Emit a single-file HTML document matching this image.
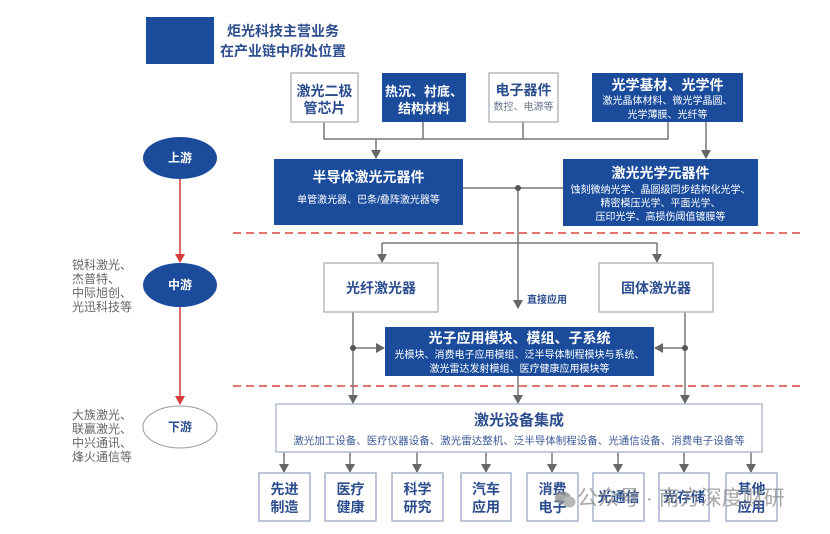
<!DOCTYPE html>
<html><head><meta charset="utf-8"><style>
html,body{margin:0;padding:0;background:#fff;}
svg{display:block;}
text{font-family:"Liberation Sans","Noto Sans CJK SC",sans-serif;}
</style></head><body>
<svg width="830" height="534" viewBox="0 0 830 534" xmlns="http://www.w3.org/2000/svg">
<defs>
<marker id="ga" markerWidth="10" markerHeight="10" refX="8" refY="5" orient="auto" markerUnits="userSpaceOnUse"><path d="M0,0 L9,5 L0,10 z" fill="#666"/></marker>
<marker id="ra" markerWidth="10" markerHeight="10" refX="8" refY="5" orient="auto" markerUnits="userSpaceOnUse"><path d="M0,0 L9,5 L0,10 z" fill="#d63a3a"/></marker>
</defs>
<rect width="830" height="534" fill="#fff"/>

<!-- legend -->
<rect x="146" y="17" width="68" height="47" fill="#1b4c9c"/>
<g font-weight="bold" font-size="14" fill="#2c4d8e" text-anchor="middle">
<text x="283" y="36">炬光科技主营业务</text>
<text x="283" y="56">在产业链中所处位置</text>
</g>

<!-- left stages -->
<line x1="180" y1="179" x2="180" y2="262" stroke="#d63a3a" stroke-width="1.5" marker-end="url(#ra)"/>
<line x1="180" y1="307" x2="180" y2="404" stroke="#d63a3a" stroke-width="1.5" marker-end="url(#ra)"/>
<ellipse cx="180" cy="158" rx="37" ry="21" fill="#1b4c9c"/>
<ellipse cx="180" cy="285" rx="37" ry="22" fill="#1b4c9c"/>
<ellipse cx="180" cy="427" rx="37" ry="21" fill="#fff" stroke="#9a9a9a" stroke-width="1"/>
<g font-weight="bold" font-size="12" text-anchor="middle">
<text x="180" y="162" fill="#fff">上游</text>
<text x="180" y="289" fill="#fff">中游</text>
<text x="180" y="431" fill="#2c4d8e">下游</text>
</g>
<g font-size="12" fill="#666">
<text x="72" y="269">锐科激光、</text>
<text x="72" y="283">杰普特、</text>
<text x="72" y="297">中际旭创、</text>
<text x="72" y="311">光迅科技等</text>
<text x="72" y="419">大族激光、</text>
<text x="72" y="433">联赢激光、</text>
<text x="72" y="447">中兴通讯、</text>
<text x="72" y="461">烽火通信等</text>
</g>

<!-- red dashed separators -->
<line x1="233" y1="233" x2="800" y2="233" stroke="#d9453f" stroke-width="1.5" stroke-dasharray="8,5"/>
<line x1="233" y1="386" x2="800" y2="386" stroke="#d9453f" stroke-width="1.5" stroke-dasharray="8,5"/>

<!-- connectors -->
<g stroke="#777" stroke-width="1.5" fill="none">
<polyline points="324,122 324,139 668,139 668,122"/>
<line x1="423" y1="122" x2="423" y2="139"/>
<line x1="523" y1="122" x2="523" y2="139"/>
<line x1="376" y1="139" x2="376" y2="158" marker-end="url(#ga)"/>
<line x1="706" y1="122" x2="706" y2="158" marker-end="url(#ga)"/>
<line x1="463" y1="188" x2="563" y2="188"/>
<line x1="518" y1="188" x2="518" y2="308" marker-end="url(#ga)"/>
<line x1="382" y1="243" x2="657" y2="243"/>
<line x1="382" y1="243" x2="382" y2="262" marker-end="url(#ga)"/>
<line x1="657" y1="243" x2="657" y2="262" marker-end="url(#ga)"/>
<line x1="353" y1="312" x2="353" y2="403" marker-end="url(#ga)"/>
<line x1="685" y1="312" x2="685" y2="403" marker-end="url(#ga)"/>
<line x1="353" y1="348" x2="384" y2="348" marker-end="url(#ga)"/>
<line x1="685" y1="348" x2="655" y2="348" marker-end="url(#ga)"/>
<line x1="518" y1="376" x2="518" y2="403" marker-end="url(#ga)"/>
<line x1="284" y1="452" x2="284" y2="472" marker-end="url(#ga)"/>
<line x1="350" y1="452" x2="350" y2="472" marker-end="url(#ga)"/>
<line x1="417" y1="452" x2="417" y2="472" marker-end="url(#ga)"/>
<line x1="486" y1="452" x2="486" y2="472" marker-end="url(#ga)"/>
<line x1="552" y1="452" x2="552" y2="472" marker-end="url(#ga)"/>
<line x1="618" y1="452" x2="618" y2="472" marker-end="url(#ga)"/>
<line x1="684" y1="452" x2="684" y2="472" marker-end="url(#ga)"/>
<line x1="751" y1="452" x2="751" y2="472" marker-end="url(#ga)"/>
</g>
<circle cx="518" cy="188" r="3" fill="#555"/>
<circle cx="353" cy="348" r="3" fill="#555"/>
<circle cx="685" cy="348" r="3" fill="#555"/>

<!-- row 1 -->
<rect x="291" y="73" width="67" height="49" fill="#fff" stroke="#b5b8bf" stroke-width="1.5"/>
<rect x="382" y="73" width="84" height="49" fill="#1b4c9c"/>
<rect x="489" y="73" width="69" height="49" fill="#fff" stroke="#b5b8bf" stroke-width="1.5"/>
<rect x="592" y="73" width="151" height="49" fill="#1b4c9c"/>
<g font-weight="bold" text-anchor="middle">
<text x="324.5" y="96" font-size="14" fill="#2c4d8e">激光二极</text>
<text x="324.5" y="113" font-size="14" fill="#2c4d8e">管芯片</text>
<text x="424" y="96" font-size="13" fill="#fff">热沉、衬底、</text>
<text x="424" y="113" font-size="13" fill="#fff">结构材料</text>
<text x="523.5" y="95" font-size="14" fill="#2c4d8e">电子器件</text>
<text x="667.5" y="90" font-size="14" fill="#fff">光学基材、光学件</text>
</g>
<text x="523.5" y="110" font-size="10" fill="#6a7590" text-anchor="middle">数控、电源等</text>
<g font-size="10" fill="#fff" text-anchor="middle">
<text x="667.5" y="104">激光晶体材料、微光学晶圆、</text>
<text x="667.5" y="118">光学薄膜、光纤等</text>
</g>

<!-- row 2 -->
<rect x="274" y="159" width="189" height="66" fill="#1b4c9c"/>
<rect x="563" y="159" width="195" height="67" fill="#1b4c9c"/>
<g font-weight="bold" font-size="14" fill="#fff" text-anchor="middle">
<text x="368.5" y="182">半导体激光元器件</text>
<text x="660.5" y="178">激光光学元器件</text>
</g>
<g font-size="10" fill="#fff" text-anchor="middle">
<text x="368.5" y="203">单管激光器、巴条/叠阵激光器等</text>
<text x="660.5" y="193">蚀刻微纳光学、晶圆级同步结构化光学、</text>
<text x="660.5" y="206.5">精密模压光学、平面光学、</text>
<text x="660.5" y="220">压印光学、高损伤阈值镀膜等</text>
</g>

<!-- row 3 -->
<rect x="324" y="263" width="114" height="49" fill="#fff" stroke="#b5b8bf" stroke-width="1.5"/>
<rect x="599" y="263" width="114" height="49" fill="#fff" stroke="#b5b8bf" stroke-width="1.5"/>
<g font-weight="bold" font-size="14" fill="#2c4d8e" text-anchor="middle">
<text x="381" y="293">光纤激光器</text>
<text x="656" y="293">固体激光器</text>
</g>
<text x="527" y="303" font-size="10" font-weight="bold" fill="#2c4d8e">直接应用</text>

<!-- row 4 -->
<rect x="385" y="327" width="269" height="49" fill="#1b4c9c"/>
<text x="519.5" y="343" font-weight="bold" font-size="14" fill="#fff" text-anchor="middle">光子应用模块、模组、子系统</text>
<g font-size="10" fill="#fff" text-anchor="middle">
<text x="519.5" y="358">光模块、消费电子应用模组、泛半导体制程模块与系统、</text>
<text x="519.5" y="372">激光雷达发射模组、医疗健康应用模块等</text>
</g>

<!-- row 5 -->
<rect x="276" y="404" width="486" height="48" fill="#fff" stroke="#b3bccf" stroke-width="1.5"/>
<text x="519" y="425" font-weight="bold" font-size="15" fill="#2c4d8e" text-anchor="middle">激光设备集成</text>
<text x="519" y="444" font-size="10.5" fill="#3d5a98" text-anchor="middle">激光加工设备、医疗仪器设备、激光雷达整机、泛半导体制程设备、光通信设备、消费电子设备等</text>

<!-- row 6 -->
<g fill="#fff" stroke="#a7b3cc" stroke-width="1.5">
<rect x="259" y="473" width="51" height="48"/>
<rect x="325" y="473" width="51" height="48"/>
<rect x="392" y="473" width="51" height="48"/>
<rect x="461" y="473" width="50" height="48"/>
<rect x="527" y="473" width="51" height="48"/>
<rect x="593" y="473" width="51" height="48"/>
<rect x="659" y="473" width="50" height="48"/>
<rect x="726" y="473" width="51" height="48"/>
</g>
<g font-weight="bold" font-size="14" fill="#2c4d8e" text-anchor="middle">
<text x="284.5" y="494">先进</text><text x="284.5" y="512">制造</text>
<text x="350.5" y="494">医疗</text><text x="350.5" y="512">健康</text>
<text x="417.5" y="494">科学</text><text x="417.5" y="512">研究</text>
<text x="486" y="494">汽车</text><text x="486" y="512">应用</text>
<text x="552.5" y="494">消费</text><text x="552.5" y="512">电子</text>
<text x="618.5" y="502">光通信</text>
<text x="684" y="502">光存储</text>
<text x="751.5" y="494">其他</text><text x="751.5" y="512">应用</text>
</g>

<!-- watermark -->
<g opacity="0.75">
<ellipse cx="563" cy="498" rx="8" ry="6.5" fill="#8a8a8a"/>
<ellipse cx="569" cy="502" rx="6.5" ry="5.5" fill="#a0a0a0"/>
<text x="577" y="505" font-size="21" fill="#8c8c8c">公众号 · 南方深度财研</text>
</g>
</svg>
</body></html>
